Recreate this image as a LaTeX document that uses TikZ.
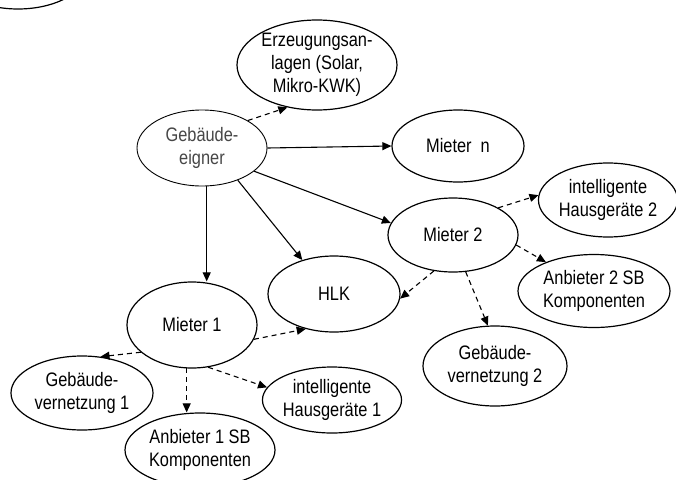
\documentclass[tikz,border=0pt]{standalone}
\usepackage{fontspec}
\setmainfont[FakeStretch=0.84]{Liberation Sans}
\usetikzlibrary{shapes.geometric,arrows.meta}
\begin{document}
\begin{tikzpicture}[x=1pt,y=-1pt,
  actor/.style={ellipse,draw,line width=1.2pt,inner sep=0pt,align=center,
    font=\fontsize{19.5}{23}\selectfont},
  own/.style={->,line width=1.1pt,>={Triangle[length=9pt,width=8pt]}},
  use/.style={own,dashed,dash pattern=on 5pt off 4pt}]
\useasboundingbox (0,0) rectangle (676,479);
\clip (0,0) rectangle (676,479);
% cropped element at the top-left corner
\node[actor,minimum width=140pt,minimum height=80pt] (edge) at (18,-31) {};
% nodes
\node[actor,minimum width=160pt,minimum height=90pt] (erz) at (317,65)
  {Erzeugungsan-\\lagen (Solar,\\Mikro-KWK)};
\node[actor,line width=0.9pt,text=black!72,minimum width=130pt,minimum height=76pt] (eig) at (202,148)
  {Gebäude-\\eigner};
\node[actor,minimum width=132pt,minimum height=72pt] (mn) at (458,146) {Mieter\ \ n};
\node[actor,minimum width=130pt,minimum height=74pt] (m2) at (453,235) {Mieter 2};
\node[actor,minimum width=136pt,minimum height=74pt] (ig2) at (608,200)
  {intelligente\\Hausgeräte 2};
\node[actor,minimum width=152pt,minimum height=73pt] (an2) at (594,291)
  {Anbieter 2 SB\\Komponenten};
\node[actor,minimum width=132pt,minimum height=76pt] (hlk) at (334,294) {HLK};
\node[actor,minimum width=144pt,minimum height=80pt] (gv2) at (495,366)
  {Gebäude-\\vernetzung 2};
\node[actor,minimum width=130pt,minimum height=86pt] (m1) at (192,325) {Mieter 1};
\node[actor,minimum width=142pt,minimum height=74pt] (gv1) at (82,393)
  {Gebäude-\\vernetzung 1};
\node[actor,minimum width=150pt,minimum height=74pt] (an1) at (200,450)
  {Anbieter 1 SB\\Komponenten};
\node[actor,minimum width=138pt,minimum height=66pt] (ig1) at (332,400)
  {intelligente\\Hausgeräte 1};
% ownership links
\draw[use] (eig.31) -- (erz.-125);
\draw[own] (eig.east) -- (mn.west);
\draw[own] (eig.-24) -- (m2.169);
\draw[own] (eig.-42) -- (hlk.133);
\draw[own] (eig.-83) -- (eig.-83 |- m1.north);
% tenant links
\draw[use] (m2.-118) -- (hlk.-4);
\draw[use] (m2.-71) -- (gv2.100);
\draw[use] (m2.31) -- (ig2.176);
\draw[use] (m2.-9) -- (an2.149);
\draw[use] (m1.-13) -- (hlk.-129);
\draw[use] (m1.-152) -- (gv1.63);
\draw[use] (m1.-97) -- (m1.-97 |- an1.north);
\draw[use] (m1.-69) -- (ig1.169);
\end{tikzpicture}
\end{document}
